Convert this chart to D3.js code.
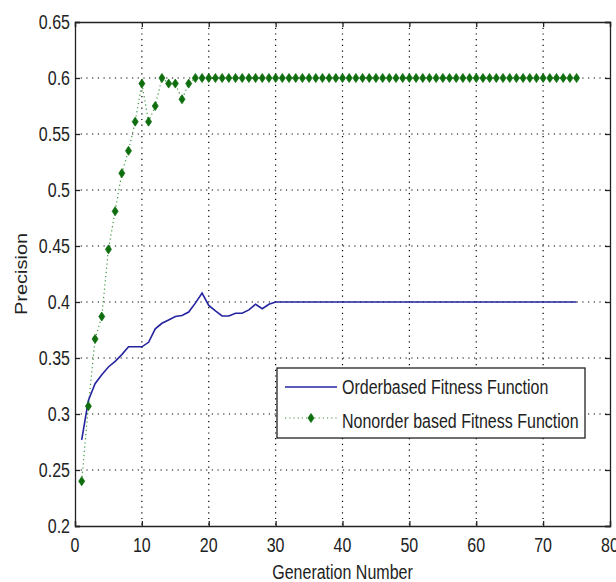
<!DOCTYPE html>
<html>
<head>
<meta charset="utf-8">
<script src="https://cdn.jsdelivr.net/npm/d3@7"></script>
<style>
  body { margin: 0; background: #fff; }
  svg { display: block; font-family: Arial, "Liberation Sans", sans-serif; }
</style>
</head>
<body>
<div id="chart"></div>
<script>
// generation number = index + 1
const orderBased = [
  0.277, 0.312, 0.327, 0.335, 0.342, 0.347, 0.353, 0.360, 0.360, 0.360,
  0.364, 0.376, 0.381, 0.384, 0.387, 0.388, 0.391, 0.399, 0.408, 0.397,
  0.392, 0.3875, 0.3875, 0.390, 0.390, 0.393, 0.398, 0.394, 0.398, 0.400,
  0.400, 0.400, 0.400, 0.400, 0.400, 0.400, 0.400, 0.400, 0.400, 0.400,
  0.400, 0.400, 0.400, 0.400, 0.400, 0.400, 0.400, 0.400, 0.400, 0.400,
  0.400, 0.400, 0.400, 0.400, 0.400, 0.400, 0.400, 0.400, 0.400, 0.400,
  0.400, 0.400, 0.400, 0.400, 0.400, 0.400, 0.400, 0.400, 0.400, 0.400,
  0.400, 0.400, 0.400, 0.400, 0.400
];
const nonOrderBased = [
  0.240, 0.307, 0.367, 0.387, 0.447, 0.481, 0.515, 0.535, 0.561, 0.595,
  0.561, 0.575, 0.600, 0.595, 0.595, 0.581, 0.595, 0.600, 0.600, 0.600,
  0.600, 0.600, 0.600, 0.600, 0.600, 0.600, 0.600, 0.600, 0.600, 0.600,
  0.600, 0.600, 0.600, 0.600, 0.600, 0.600, 0.600, 0.600, 0.600, 0.600,
  0.600, 0.600, 0.600, 0.600, 0.600, 0.600, 0.600, 0.600, 0.600, 0.600,
  0.600, 0.600, 0.600, 0.600, 0.600, 0.600, 0.600, 0.600, 0.600, 0.600,
  0.600, 0.600, 0.600, 0.600, 0.600, 0.600, 0.600, 0.600, 0.600, 0.600,
  0.600, 0.600, 0.600, 0.600, 0.600
];
const xTicks = [0, 10, 20, 30, 40, 50, 60, 70, 80];
const yTicks = [0.2, 0.25, 0.3, 0.35, 0.4, 0.45, 0.5, 0.55, 0.6, 0.65];
const seriesNames = ['Orderbased Fitness Function', 'Nonorder based Fitness Function'];

const margin = { top: 22, right: 6, bottom: 56, left: 75 };
const W = 616, H = 582;
const width = W - margin.left - margin.right;
const height = H - margin.top - margin.bottom;
const squeeze = 0.8; // the source picture is narrowed horizontally
const fontSize = 20;

const blue = '#2424a0';
const green = '#0e6e0e';

const svg = d3.select('#chart').append('svg')
  .attr('width', W)
  .attr('height', H);
const g = svg.append('g')
  .attr('transform', `translate(${margin.left},${margin.top})`);

const x = d3.scaleLinear().domain([0, 80]).range([0, width]);
const y = d3.scaleLinear().domain([0.2, 0.65]).range([height, 0]);

function narrow(sel) {
  sel.each(function() {
    const len = this.getComputedTextLength();
    d3.select(this).attr('textLength', len * squeeze).attr('lengthAdjust', 'spacingAndGlyphs');
  });
}

// grid
g.append('g').selectAll('line')
  .data(xTicks.slice(1, -1))
  .join('line')
  .attr('x1', d => x(d)).attr('x2', d => x(d))
  .attr('y1', 0).attr('y2', height)
  .attr('stroke', '#000').attr('stroke-width', 1.2)
  .attr('stroke-dasharray', '1.2,4.5');
g.append('g').selectAll('line')
  .data(yTicks.slice(1, -1))
  .join('line')
  .attr('y1', d => y(d)).attr('y2', d => y(d))
  .attr('x1', 0).attr('x2', width)
  .attr('stroke', '#000').attr('stroke-width', 1.2)
  .attr('stroke-dasharray', '1.2,4.5');

// axes: ticks inward on all four sides
const tickLen = 5;
g.append('g')
  .attr('transform', `translate(0,${height})`)
  .call(d3.axisBottom(x).tickValues(xTicks).tickSize(-tickLen).tickFormat(''));
g.append('g')
  .call(d3.axisTop(x).tickValues(xTicks).tickSize(-tickLen).tickFormat(''));
g.append('g')
  .call(d3.axisLeft(y).tickValues(yTicks).tickSize(-tickLen).tickFormat(''));
g.append('g')
  .attr('transform', `translate(${width},0)`)
  .call(d3.axisRight(y).tickValues(yTicks).tickSize(-tickLen).tickFormat(''));
g.selectAll('.domain').attr('stroke', '#222').attr('stroke-width', 1.3);
g.selectAll('.tick line').attr('stroke', '#222').attr('stroke-width', 1.3);

// tick labels
g.append('g').selectAll('text')
  .data(xTicks)
  .join('text')
  .attr('x', d => x(d))
  .attr('y', height + 26)
  .attr('text-anchor', 'middle')
  .attr('font-size', fontSize)
  .attr('fill', '#222')
  .text(d => d)
  .call(narrow);
g.append('g').selectAll('text')
  .data(yTicks)
  .join('text')
  .attr('x', -5)
  .attr('y', d => y(d))
  .attr('dy', '0.36em')
  .attr('text-anchor', 'end')
  .attr('font-size', fontSize)
  .attr('fill', '#222')
  .text(d => d)
  .call(narrow);

// axis titles
svg.append('text')
  .attr('x', margin.left + width / 2)
  .attr('y', 579)
  .attr('text-anchor', 'middle')
  .attr('font-size', fontSize)
  .attr('fill', '#222')
  .text('Generation Number')
  .call(narrow);
svg.append('text')
  .attr('transform', `translate(27,${margin.top + height / 2}) scale(${squeeze},1) rotate(-90)`)
  .attr('text-anchor', 'middle')
  .attr('font-size', fontSize)
  .attr('fill', '#222')
  .text('Precision');

// series
const lineGen = d3.line()
  .x((d, i) => x(i + 1))
  .y(d => y(d));

g.append('path')
  .datum(nonOrderBased)
  .attr('fill', 'none')
  .attr('stroke', '#3c963c')
  .attr('stroke-width', 1.2)
  .attr('stroke-dasharray', '1.2,3')
  .attr('d', lineGen);

g.append('path')
  .datum(orderBased)
  .attr('fill', 'none')
  .attr('stroke', blue)
  .attr('stroke-width', 1.6)
  .attr('d', lineGen);

const diamond = 'M0,-4.5L3,0L0,4.5L-3,0Z';
g.append('g').selectAll('path')
  .data(nonOrderBased)
  .join('path')
  .attr('transform', (d, i) => `translate(${x(i + 1)},${y(d)})`)
  .attr('d', diamond)
  .attr('fill', green)
  .attr('stroke', green)
  .attr('stroke-width', 0.8);

// legend
const legend = svg.append('g').attr('transform', 'translate(277,368)');
legend.append('rect')
  .attr('width', 308).attr('height', 70)
  .attr('fill', '#fff')
  .attr('stroke', '#222').attr('stroke-width', 1.3);
legend.append('line')
  .attr('x1', 8).attr('x2', 60).attr('y1', 19).attr('y2', 19)
  .attr('stroke', blue).attr('stroke-width', 1.6);
legend.append('line')
  .attr('x1', 8).attr('x2', 60).attr('y1', 50).attr('y2', 50)
  .attr('stroke', '#3c963c').attr('stroke-width', 1.2)
  .attr('stroke-dasharray', '1.2,3');
legend.append('path')
  .attr('transform', 'translate(34,50)')
  .attr('d', diamond)
  .attr('fill', green).attr('stroke', green).attr('stroke-width', 0.8);
legend.selectAll('text.lab')
  .data(seriesNames)
  .join('text')
  .attr('class', 'lab')
  .attr('x', 65)
  .attr('y', (d, i) => 26 + i * 34)
  .attr('font-size', fontSize)
  .attr('fill', '#222')
  .text(d => d)
  .call(narrow);
</script>
</body>
</html>
